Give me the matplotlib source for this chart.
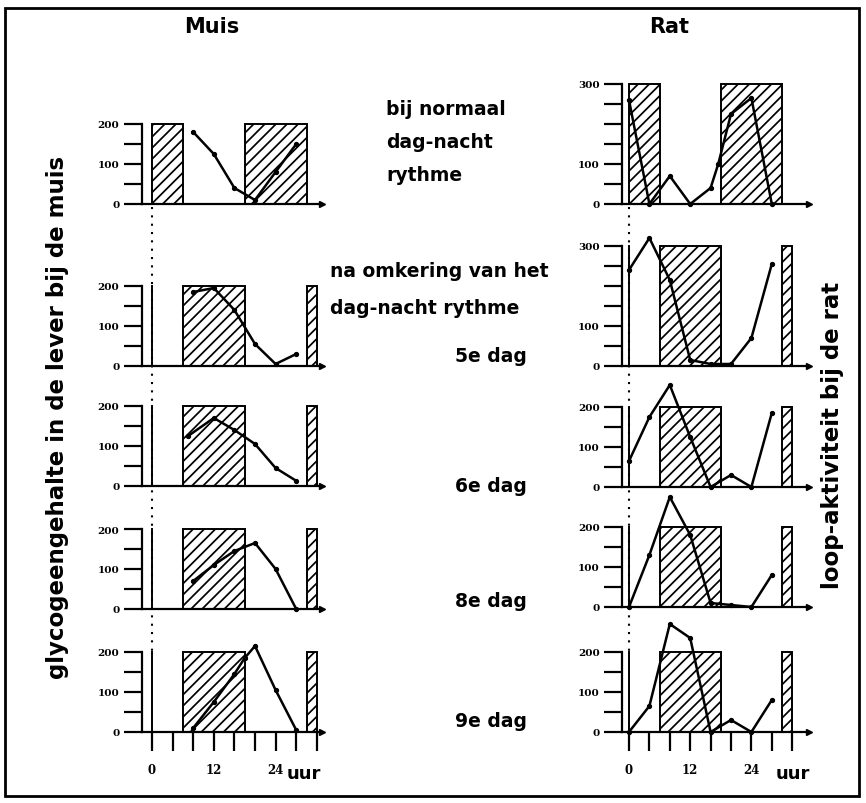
import numpy as np
import matplotlib
matplotlib.use("Agg")
import matplotlib.pyplot as plt
from matplotlib.patches import Rectangle

plt.rcParams['hatch.linewidth'] = 1.25
FONT = ['DejaVu Sans']

# ---- data (uren, waarden) ----
muis_t = [[8, 12, 16, 20, 24, 28],
          [8, 12, 16, 20, 24, 28],
          [7, 12, 16, 20, 24, 28],
          [8, 12, 16, 20, 24, 28],
          [8, 12, 16, 18, 20, 24, 28]]
muis_v = [[180, 125, 40, 10, 80, 150],
          [185, 195, 140, 55, 5, 30],
          [125, 170, 140, 105, 45, 13],
          [70, 110, 145, 165, 100, 0],
          [10, 75, 145, 185, 215, 105, 5]]

rat_t = [[0, 4, 8, 12, 16, 17.5, 20, 24, 28],
         [0, 4, 8, 12, 16, 20, 24, 28],
         [0, 4, 8, 12, 16, 20, 24, 28],
         [0, 4, 8, 12, 16, 20, 24, 28],
         [0, 4, 8, 12, 16, 20, 24, 28]]
rat_v = [[260, 0, 70, 0, 40, 100, 225, 265, 0],
         [240, 320, 215, 15, 5, 5, 70, 255],
         [65, 175, 255, 125, 0, 30, 0, 185],
         [0, 130, 275, 180, 10, 5, 0, 80],
         [0, 65, 270, 235, 0, 30, 0, 80]]

# donkerperiodes (gearceerd)
donker_normaal = [(0, 6), (18, 30)]
donker_omgekeerd = [(6, 18), (30, 32)]

muis_ymax = [200, 200, 200, 200, 200]
rat_ymax = [300, 300, 200, 200, 200]
muis_labels = [[0, 100, 200]] * 5
rat_labels = [[0, 100, 300], [0, 100, 300], [0, 100, 200], [0, 100, 200], [0, 100, 200]]

dag_labels = ['5e dag', '6e dag', '8e dag', '9e dag']

# ---- layout in pixels ----
W, H = 866, 804
PPU = 0.4  # pixels per eenheid
cols = {
    'muis': dict(x0=152, pxh=5.15, xlim=(-2, 33), base=[205, 367, 487, 610, 733]),
    'rat': dict(x0=629, pxh=5.1, xlim=(-1.4, 35.3), base=[205, 367, 488, 608, 733]),
}

fig = plt.figure(figsize=(W / 100, H / 100), dpi=100)

bg = fig.add_axes([0, 0, 1, 1])
bg.set_xlim(0, W)
bg.set_ylim(H, 0)
bg.axis('off')
bg.add_patch(Rectangle((5, 9), 854, 788, fill=False, lw=2, edgecolor='k'))


def make_panel(col, i, times, vals, ymax, labels, donker):
    c = cols[col]
    xl, xr = c['xlim']
    left = c['x0'] + xl * c['pxh']
    right = c['x0'] + xr * c['pxh']
    base = c['base'][i]
    top_units = 330
    ax = fig.add_axes([left / W, (H - base) / H, (right - left) / W, top_units * PPU / H])
    ax.set_xlim(xl, xr)
    ax.set_ylim(0, top_units)
    ax.patch.set_alpha(0)
    for s in ['top', 'right']:
        ax.spines[s].set_visible(False)
    ax.spines['left'].set_bounds(0, ymax)
    ax.spines['left'].set_linewidth(1.6)
    ax.spines['bottom'].set_linewidth(1.6)
    ax.set_yticks(np.arange(0, ymax + 1, 50))
    ax.set_yticklabels([str(v) if v in labels else '' for v in np.arange(0, ymax + 1, 50)],
                       family='DejaVu Serif', weight='bold', fontsize=7.5)
    ax.tick_params(axis='y', direction='out', length=13, width=1.6, pad=3)
    if i == 4:
        xt = np.arange(0, 33, 4)
        ax.set_xticks(xt)
        ax.set_xticklabels([str(v) if v in (0, 12, 24) else '' for v in xt],
                           family='DejaVu Serif', weight='bold', fontsize=8.5)
        ax.tick_params(axis='x', direction='out', length=14, width=1.6, pad=8)
    else:
        ax.set_xticks([])
    ax.plot([xr], [0], marker='>', color='k', ms=5, clip_on=False)
    for a, b in donker:
        ax.add_patch(Rectangle((a, 0), b - a, ymax, fill=False, hatch='///',
                               lw=1.4, edgecolor='k', zorder=1))
    if i > 0:
        ax.plot([0, 0], [0, ymax], color='k', lw=1.4, zorder=2)
    ax.plot(times, vals, '-o', color='k', lw=1.8, ms=2.8, clip_on=False, zorder=3)
    return ax


for i in range(5):
    donker = donker_normaal if i == 0 else donker_omgekeerd
    make_panel('muis', i, muis_t[i], muis_v[i], muis_ymax[i], muis_labels[i], donker)
    make_panel('rat', i, rat_t[i], rat_v[i], rat_ymax[i], rat_labels[i], donker)

# stippellijnen op t = 0
for col in cols.values():
    bg.plot([col['x0'], col['x0']], [col['base'][0] + 3, col['base'][4] - 80],
            color='k', lw=1.5, ls=(0, (1, 3)))

# teksten
tk = dict(family=FONT, weight='bold', color='k')
bg.text(212, 27, 'Muis', ha='center', va='center', fontsize=15, **tk)
bg.text(669, 27, 'Rat', ha='center', va='center', fontsize=15, **tk)
bg.text(386, 115, 'bij normaal', ha='left', va='baseline', fontsize=13.5, **tk)
bg.text(386, 148, 'dag-nacht', ha='left', va='baseline', fontsize=13.5, **tk)
bg.text(386, 181, 'rythme', ha='left', va='baseline', fontsize=13.5, **tk)
bg.text(330, 277, 'na omkering van het', ha='left', va='baseline', fontsize=13.5, **tk)
bg.text(330, 314, 'dag-nacht rythme', ha='left', va='baseline', fontsize=13.5, **tk)
for lab, y in zip(dag_labels, [362, 492, 607, 727]):
    bg.text(455, y, lab, ha='left', va='baseline', fontsize=13.5, **tk)
bg.text(287, 779, 'uur', ha='left', va='baseline', fontsize=13, **tk)
bg.text(776, 779, 'uur', ha='left', va='baseline', fontsize=13, **tk)
bg.text(58, 417, 'glycogeengehalte in de lever bij de muis', rotation=90,
        ha='center', va='center', fontsize=16.5, **tk)
bg.text(833, 435, 'loop-aktiviteit bij de rat', rotation=90,
        ha='center', va='center', fontsize=16.5, **tk)

fig.savefig('out.png', dpi=100)
